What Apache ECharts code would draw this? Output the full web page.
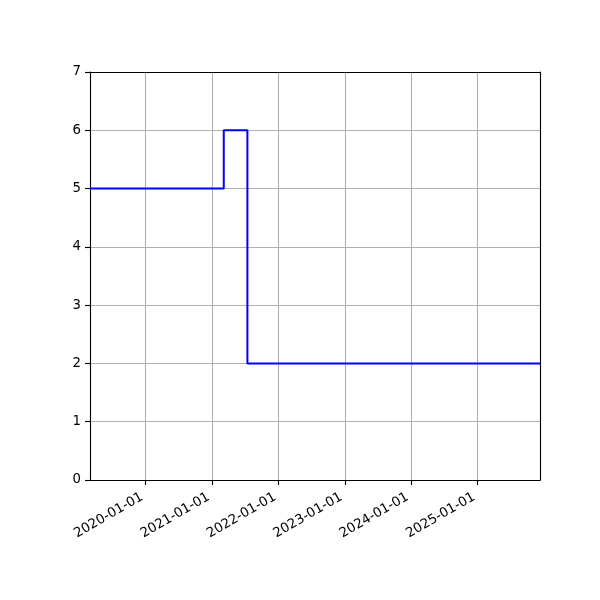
<!DOCTYPE html>
<html>
<head>
<meta charset="utf-8">
<script src="https://cdn.jsdelivr.net/npm/echarts@6/dist/echarts.min.js"></script>
<style>
html,body{margin:0;padding:0;background:#fff;}
#chart{width:600px;height:600px;}
</style>
</head>
<body>
<div id="chart"></div>
<script>
// Data
const dates = ['2019-03-01', '2021-03-06', '2021-07-14', '2025-12-10'];
const values = [5, 6, 2, 2];
const xMin = '2019-03-01';
const xMax = '2025-12-10';
const yTicks = [0, 1, 2, 3, 4, 5, 6, 7];

const chart = echarts.init(document.getElementById('chart'), null, {renderer: 'canvas'});
const YEAR = 365 * 24 * 3600 * 1000;
const font = 'DejaVu Sans';
const frameAxis = {
  show: true,
  axisLine: {show: true, onZero: false, lineStyle: {color: '#000', width: 1.1}},
  axisTick: {show: false},
  axisLabel: {show: false},
  splitLine: {show: false},
  z: 10
};
chart.setOption({
  animation: false,
  backgroundColor: '#ffffff',
  grid: {left: 90, right: 60, top: 72, bottom: 120, show: false},
  xAxis: [{
    type: 'time',
    min: xMin,
    max: xMax,
    minInterval: YEAR,
    maxInterval: YEAR,
    axisLine: {show: true, onZero: false, lineStyle: {color: '#000', width: 1.1}},
    axisTick: {show: true, length: 5, lineStyle: {color: '#000', width: 1.1}},
    minorTick: {show: false},
    splitLine: {show: true, lineStyle: {color: '#b0b0b0', width: 1.1}},
    axisLabel: {
      rotate: 30,
      color: '#000',
      fontFamily: font,
      fontSize: 13.3,
      margin: 14,
      padding: [0, 4, 0, 0],
      showMinLabel: false,
      showMaxLabel: false,
      hideOverlap: false,
      formatter: function (v) {
        const d = new Date(v);
        const y = d.getFullYear();
        const m = String(d.getMonth() + 1).padStart(2, '0');
        const dd = String(d.getDate()).padStart(2, '0');
        return y + '-' + m + '-' + dd;
      }
    }
  }, Object.assign({type: 'time', min: xMin, max: xMax, position: 'top'}, frameAxis)],
  yAxis: [{
    type: 'value',
    min: yTicks[0],
    max: yTicks[yTicks.length - 1],
    interval: 1,
    axisLine: {show: true, onZero: false, lineStyle: {color: '#000', width: 1.1}},
    axisTick: {show: true, length: 5, lineStyle: {color: '#000', width: 1.1}},
    splitLine: {show: true, lineStyle: {color: '#b0b0b0', width: 1.1}},
    axisLabel: {color: '#000', fontFamily: font, fontSize: 13.3, margin: 9}
  }, Object.assign({type: 'value', min: yTicks[0], max: yTicks[yTicks.length - 1], interval: 1, position: 'right'}, frameAxis)],
  series: [{
    type: 'line',
    step: 'end',
    showSymbol: false,
    z: 5,
    lineStyle: {color: '#0000ff', width: 2},
    data: dates.map((d, i) => [d, values[i]])
  }]
});
</script>
</body>
</html>
